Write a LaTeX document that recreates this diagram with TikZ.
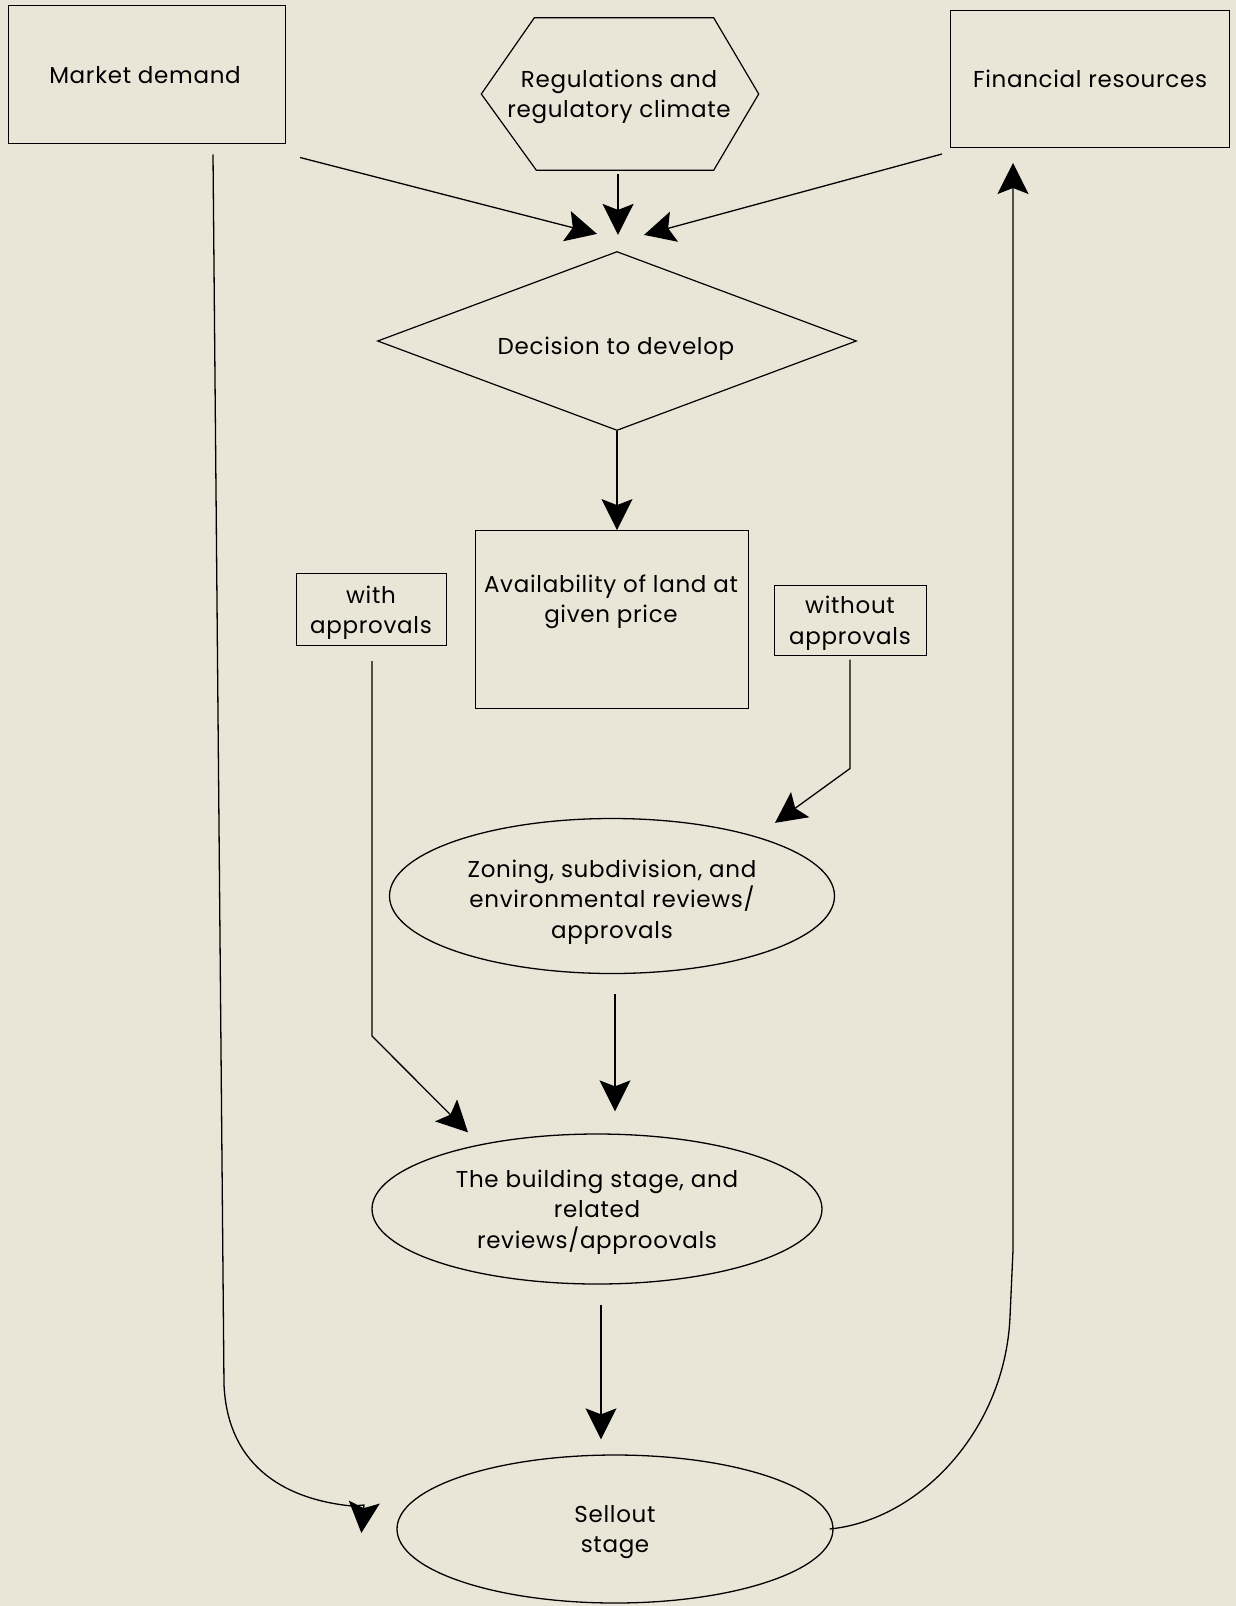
\documentclass[tikz,border=0pt]{standalone}
\usepackage{fontspec}
\setmainfont[LetterSpace=3]{Poppins}
\usetikzlibrary{shapes.geometric,arrows.meta,calc}
\definecolor{paper}{RGB}{233,230,216}
\begin{document}
\begin{tikzpicture}[x=1pt,y=-1pt,
  every node/.style={font=\fontsize{23}{30.5}\selectfont, align=center, inner sep=0pt},
  txt/.style={yshift=-3pt},
  box/.style={draw, line width=1pt, rectangle},
  oval/.style={draw, line width=1.3pt, ellipse},
  conn/.style={line width=1.3pt},
  arr/.style={conn, -{Stealth[length=31pt,width=31pt,inset=6pt]}},
]
\fill[paper] (0,0) rectangle (1236,1606);
\useasboundingbox (0,0) rectangle (1236,1606);

% top row
\node[box, minimum width=277pt, minimum height=138pt] (md) at (147,74) {};
\node[txt] (mdtxt) at (145,72) {Market demand};
\node[minimum width=277pt, minimum height=152pt] (hex) at (620,94) {};
\node[txt] (hextxt) at (619,94) {Regulations and\\regulatory climate};
\draw[line width=1.2pt] ([xshift=53pt]hex.north west) -- ([xshift=-45pt]hex.north east) -- (hex.east)
  -- ([xshift=-45pt]hex.south east) -- ([xshift=55pt]hex.south west) -- (hex.west) -- cycle;
\node[box, minimum width=279pt, minimum height=137pt] (fin) at (1090,79) {};
\node[txt] (fintxt) at (1090,76) {Financial resources};

% decision
\node[diamond, draw, line width=1.2pt, shape aspect=2.67, minimum width=479pt, minimum height=179pt] (dec) at (617,341) {};
\node[txt] (dectxt) at (616,346) {Decision to develop};

% availability
\node[box, minimum width=273pt, minimum height=178pt] (avail) at (611.5,619) {};
\node[txt] (availtxt) at (611,599) {Availability of land at\\given price};

\node[box, minimum width=150pt, minimum height=72pt] (with) at (371,609.5) {};
\node[txt] (withtxt) at (371,609.5) {with\\approvals};
\node[box, minimum width=152pt, minimum height=70pt] (wo) at (850,620) {};
\node[txt] (wotxt) at (850,620) {without\\approvals};

% ellipses
\node[oval, minimum width=445pt, minimum height=155pt] (zon) at (612,896) {};
\node (zontxt) at (612,902) {Zoning, subdivision, and\\environmental reviews/\\approvals};
\node[oval, minimum width=450pt, minimum height=150pt] (bld) at (597,1209) {};
\node[txt] (bldtxt) at (597,1209) {The building stage, and\\related\\reviews/approovals};
\node[oval, minimum width=436pt, minimum height=148pt] (sell) at (615,1529) {};
\node[txt] (selltxt) at (615,1529) {Sellout\\stage};

% arrows into decision
\draw[arr] ($(md.south east)+(14,14)$) -- ($(dec.north)+(-20,-17)$);
\draw[arr] ($(hex.south)+(-2,4)$) -- ($(dec.north)+(1,-16)$);
\draw[arr] ($(fin.south west)+(-8,6)$) -- ($(dec.north)+(27,-16)$);

% decision to availability
\draw[arr] (dec.south) -- ($(dec.south)+(0,99)$);

% without approvals
\draw[arr] ($(wo.south)+(0,4)$) -- ($(wo.south)+(0,113)$) -- ($(zon.north)+(163,5)$);
% with approvals
\draw[arr] ($(with.south)+(1,15)$) -- ($(with.south)+(1,390)$) -- ($(bld.north)+(-129,-1)$);

% zoning to building
\draw[arr] ($(zon.south)+(3,20)$) -- ($(bld.north)+(18,-22)$);
% building to sellout
\draw[arr] ($(bld.south)+(4,20)$) -- ($(sell.north)+(-14,-15)$);

% market demand to sellout
\draw[arr] ($(md.south)+(66,11)$) -- (224,1385)
  .. controls (228,1470) and (290,1500) .. (352,1506) -- (364,1505) -- ($(sell.west)+(-35,4)$);

% sellout to financial resources
\draw[arr] ($(sell.east)+(-4,0)$) .. controls (920,1520) and (1005,1430) .. (1010,1317)
  -- (1013,1250) -- ($(fin.south)+(-77,15)$);
\end{tikzpicture}
\end{document}
